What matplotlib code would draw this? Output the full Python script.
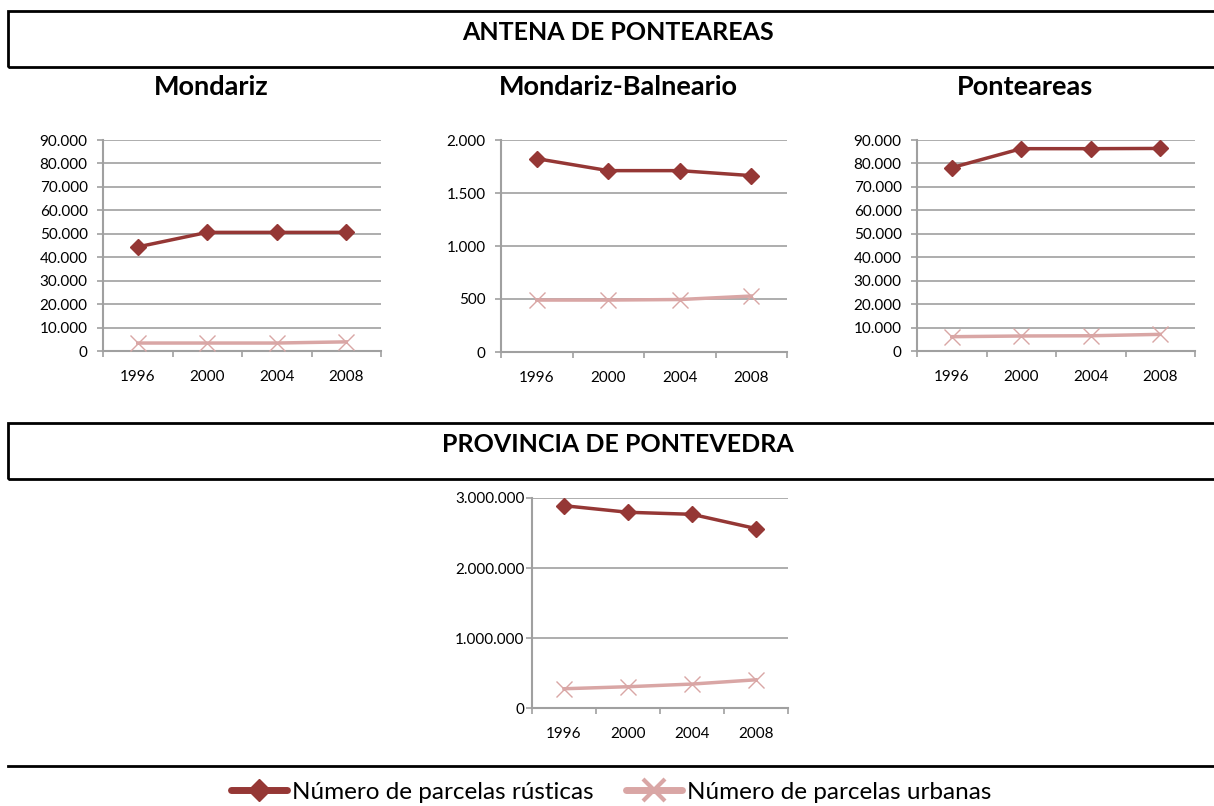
import matplotlib.pyplot as plt
from matplotlib.patches import Rectangle
from matplotlib.lines import Line2D
from matplotlib.ticker import FuncFormatter, MultipleLocator, FixedLocator

plt.rcParams['font.family'] = ['Lato', 'DejaVu Sans']

years = ['1996', '2000', '2004', '2008']

# number of plots per municipality
mondariz_rust = [44400, 50600, 50600, 50600]
mondariz_urb = [3400, 3400, 3400, 3900]
balneario_rust = [1824, 1711, 1711, 1664]
balneario_urb = [490, 490, 495, 528]
ponteareas_rust = [78200, 86300, 86300, 86400]
ponteareas_urb = [6100, 6400, 6500, 7100]
pontevedra_rust = [2890000, 2796000, 2767000, 2563000]
pontevedra_urb = [275000, 304000, 342000, 403000]

RUST = '#953735'
URB = '#D9A6A5'
GRID = '#A0A0A0'
W, H = 1214, 806


def thousands(v, pos):
    return f"{int(round(v)):,}".replace(",", ".")


def draw(rect, rust, urb, ymax, step, ypad=6.5):
    ax = fig.add_axes(rect)
    x = [i + 0.5 for i in range(len(years))]
    ax.plot(x, rust, color=RUST, lw=2.5, marker='D', ms=8,
            mfc=RUST, mec=RUST, solid_joinstyle='round', zorder=3)
    ax.plot(x, urb, color=URB, lw=2.5, marker='x', ms=12, mew=1.0,
            mec=URB, zorder=3)
    ax.set_xlim(0, 4)
    ax.set_ylim(0, ymax)
    ax.yaxis.set_major_locator(MultipleLocator(step))
    ax.yaxis.set_major_formatter(FuncFormatter(thousands))
    ax.grid(axis='y', color=GRID, lw=1.2)
    ax.set_axisbelow(True)
    ax.xaxis.set_major_locator(FixedLocator([0, 1, 2, 3, 4]))
    ax.xaxis.set_major_formatter(FuncFormatter(lambda v, p: ''))
    ax.xaxis.set_minor_locator(FixedLocator(x))
    ax.set_xticklabels(years, minor=True)
    ax.tick_params(axis='x', which='major', length=4.5, color=GRID, width=1.2)
    ax.tick_params(axis='x', which='minor', length=0, pad=14, labelsize=11)
    ax.tick_params(axis='y', length=4.5, color=GRID, width=1.2, pad=ypad,
                   labelsize=11)
    for s in ('top', 'right'):
        ax.spines[s].set_visible(False)
    for s in ('left', 'bottom'):
        ax.spines[s].set_color(GRID)
        ax.spines[s].set_linewidth(1.5)
    return ax


def px_rect(left, right, top, bottom):
    return [left / W, 1 - bottom / H, (right - left) / W, (bottom - top) / H]


fig = plt.figure(figsize=(12.14, 8.06), dpi=100, facecolor='white')

draw(px_rect(103, 381, 140, 351), mondariz_rust, mondariz_urb, 90000, 10000)
draw(px_rect(501, 787, 140, 352), balneario_rust, balneario_urb, 2000, 500)
draw(px_rect(917, 1195, 140, 351), ponteareas_rust, ponteareas_urb, 90000, 10000)
draw(px_rect(532, 788, 498, 708), pontevedra_rust, pontevedra_urb, 3000000,
     1000000, ypad=1.0)

# section boxes
for top, bottom in ((11, 67), (423, 479)):
    fig.add_artist(Rectangle((8 / W, 1 - bottom / H), 1.2, (bottom - top) / H,
                             transform=fig.transFigure, fill=False,
                             lw=2, ec='black', clip_on=False))
fig.add_artist(Line2D([8 / W, 1], [1 - 766 / H] * 2, transform=fig.transFigure,
                      color='black', lw=2))

fig.text(618 / W, 1 - 32 / H, 'ANTENA DE PONTEAREAS', ha='center',
         va='center', fontsize=18, fontweight='bold')
fig.text(618 / W, 1 - 444 / H, 'PROVINCIA DE PONTEVEDRA', ha='center',
         va='center', fontsize=18, fontweight='bold')
for xc, name in ((211, 'Mondariz'), (618, 'Mondariz-Balneario'),
                 (1025, 'Ponteareas')):
    fig.text(xc / W, 1 - 87 / H, name, ha='center', va='center',
             fontsize=19.5, fontweight='bold')

handles = [
    Line2D([], [], color=RUST, lw=5, marker='D', ms=11, mfc=RUST, mec=RUST,
           solid_capstyle='round'),
    Line2D([], [], color=URB, lw=5, marker='x', ms=16, mew=3, mec=URB,
           solid_capstyle='round'),
]
fig.legend(handles, ['Número de parcelas rústicas', 'Número de parcelas urbanas'],
           loc='center', bbox_to_anchor=(611 / W, 1 - 792 / H), ncol=2,
           frameon=False, fontsize=17.5, handlelength=2.3, handletextpad=0.2,
           columnspacing=1.35)

fig.savefig('out.png', dpi=100, facecolor='white')
